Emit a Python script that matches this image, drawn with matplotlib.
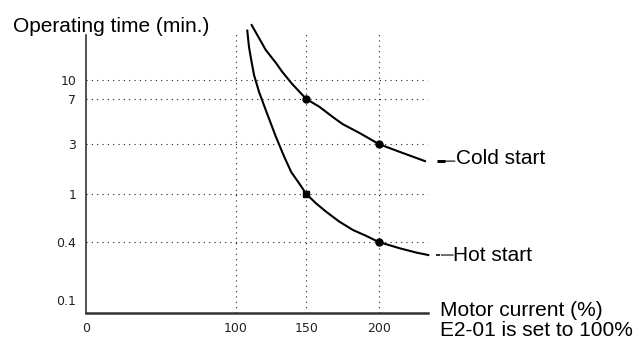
import numpy as np
import matplotlib
matplotlib.use("Agg")
import matplotlib.pyplot as plt
from matplotlib.ticker import FixedLocator, FixedFormatter, NullLocator
from matplotlib.transforms import offset_copy

# ---------------- data ----------------
x_ticks = [0, 100, 150, 200]
x_tick_labels = ["0", "100", "150", "200"]
y_ticks = [0.1, 0.4, 1, 3, 7, 10]
y_tick_labels = ["0.1", "0.4", "1", "3", "7", "10"]
grid_x = [100, 150, 200]
grid_y = [0.4, 1, 3, 7, 10]

cold_x = [111.2, 116.4, 121.2, 128.4, 132.9, 140.0, 150.0, 159.0, 168.1, 175.0, 186.8, 200.0, 214.6, 231.9]
cold_y = [28.7, 22.4, 17.8, 13.9, 11.7, 9.27, 7.0, 6.05, 5.01, 4.37, 3.69, 3.0, 2.52, 2.06]
cold_mark_x = [150, 200]
cold_mark_y = [7, 3]

hot_x = [108.1, 109.3, 110.9, 112.9, 116.4, 121.2, 128.4, 134.3, 139.3, 145.0, 150.0,
         156.7, 163.7, 172.9, 182.2, 191.5, 200.0, 214.6, 226.2, 234.2]
hot_y = [25.8, 18.9, 14.7, 11.0, 8.03, 5.69, 3.44, 2.27, 1.62, 1.26, 1.0,
         0.837, 0.713, 0.589, 0.503, 0.449, 0.4, 0.344, 0.310, 0.293]
hot_mark_x = [150, 200]
hot_mark_y = [1, 0.4]

# ---------------- schematic (non-uniform) scales ----------------
XA_V = np.array([0, 100, 150, 200, 250], float)
XA_P = np.array([0, 149, 219, 291, 363], float)
YA_L = np.log10(np.array([0.01, 0.1, 0.4, 1, 3, 7, 10, 100], float))
YA_P = np.array([-84, 12, 70, 118, 168, 213, 232, 352], float)


def xf(v):
    return np.interp(np.asarray(v, float), XA_V, XA_P)


def xi(p):
    return np.interp(np.asarray(p, float), XA_P, XA_V)


def yf(v):
    v = np.clip(np.asarray(v, float), 1e-6, None)
    return np.interp(np.log10(v), YA_L, YA_P)


def yi(p):
    return 10 ** np.interp(np.asarray(p, float), YA_P, YA_L)


W, H = 637, 340
fig = plt.figure(figsize=(W / 100, H / 100), dpi=100)
ax_l, ax_r, ax_t, ax_b = 86, 428, 31, 313
ax = fig.add_axes([ax_l / W, (H - ax_b) / H, (ax_r - ax_l) / W, (ax_b - ax_t) / H])
ax.set_xscale("function", functions=(xf, xi))
ax.set_yscale("function", functions=(yf, yi))
ax.set_xlim(float(xi(ax_l - 88)), float(xi(ax_r - 88)))
ax.set_ylim(float(yi(312 - ax_b)), float(yi(312 - ax_t)))

for s in ("top", "right"):
    ax.spines[s].set_visible(False)
ax.spines["left"].set_linewidth(1.1)
ax.spines["left"].set_color("#222222")
ax.spines["left"].set_bounds(float(yi(312 - ax_b)), float(yi(312 - 35)))
ax.spines["bottom"].set_linewidth(1.8)
ax.spines["bottom"].set_color("#333333")

ax.xaxis.set_major_locator(FixedLocator(x_ticks))
ax.xaxis.set_major_formatter(FixedFormatter(x_tick_labels))
ax.yaxis.set_major_locator(FixedLocator(y_ticks))
ax.yaxis.set_major_formatter(FixedFormatter(y_tick_labels))
ax.xaxis.set_minor_locator(NullLocator())
ax.yaxis.set_minor_locator(NullLocator())
ax.tick_params(axis="both", length=0, colors="#222222")
ax.tick_params(axis="x", pad=6.5)
ax.tick_params(axis="y", pad=7)
for lab in ax.get_xticklabels() + ax.get_yticklabels():
    lab.set_fontfamily("DejaVu Sans")
    lab.set_fontsize(9)

dot = (0, (1, 3.8))
for gx in grid_x:
    ax.axvline(gx, color="#222222", lw=0.8, linestyle=dot, zorder=1)
for gy in grid_y:
    ax.axhline(gy, color="#222222", lw=0.8, linestyle=dot, zorder=1)

ax.plot(cold_x, cold_y, color="black", lw=1.5, clip_on=False, zorder=3)
ax.plot(hot_x, hot_y, color="black", lw=1.5, clip_on=False, zorder=3)
ax.plot(cold_mark_x, cold_mark_y, "o", color="black", ms=5, zorder=4, clip_on=False)
ax.plot(hot_mark_x[:1], hot_mark_y[:1], "s", color="black", ms=4.5, zorder=4, clip_on=False)
ax.plot(hot_mark_x[1:], hot_mark_y[1:], "o", color="black", ms=5, zorder=4, clip_on=False)

lab_font = dict(family="Liberation Sans", size=15, color="black")


def leader(xe, ye, dash_off, dash_len, dash_w, line_from, line_to, text, tdx, tdy):
    tr = offset_copy(ax.transData, fig=fig, x=dash_off, y=0, units="dots")
    ax.plot([xe], [ye], marker="_", ms=dash_len * 0.72, mew=dash_w * 0.72,
            color="black", transform=tr, clip_on=False)
    ax.annotate("", xy=(xe, ye), xytext=(line_from * 0.72, 0), textcoords="offset points",
                arrowprops=dict(arrowstyle="-", lw=0.8, color="black",
                                shrinkA=0, shrinkB=line_to * 0.72),
                annotation_clip=False)
    ax.annotate(text, xy=(xe, ye), xytext=(tdx * 0.72, tdy * 0.72), textcoords="offset points",
                ha="left", va="baseline", annotation_clip=False, **lab_font)


leader(cold_x[-1], cold_y[-1], 16, 8, 3, 30, 20, "Cold start", 31, -3)
leader(hot_x[-1], hot_y[-1], 10, 5, 1.6, 25, 13, "Hot start", 24.7, -6)

fig.text(13 / W, 1 - 32 / H, "Operating time (min.)", ha="left", va="baseline", **lab_font)
fig.text(440 / W, 1 - 316 / H, "Motor current (%)", ha="left", va="baseline", **lab_font)
fig.text(440 / W, 1 - 335.5 / H, "E2-01 is set to 100%", ha="left", va="baseline", **lab_font)

fig.savefig("out.png", dpi=100)
